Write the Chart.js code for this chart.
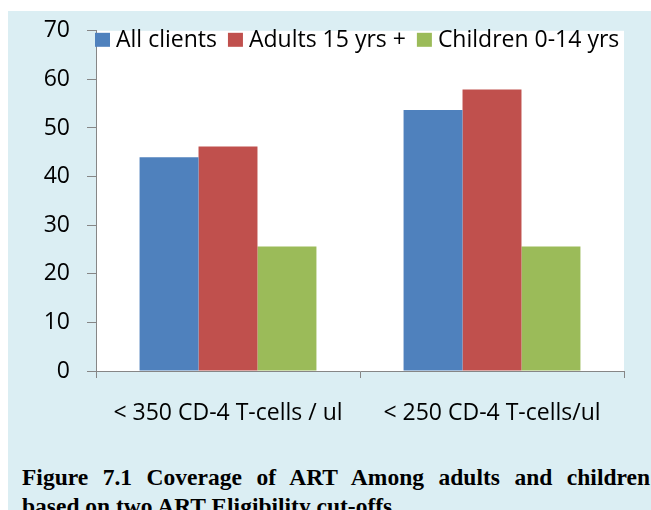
<!DOCTYPE html>
<html>
<head>
<meta charset="utf-8">
<script src="https://cdn.jsdelivr.net/npm/chart.js@4.4.1/dist/chart.umd.min.js"></script>
<style>
  html, body { margin: 0; padding: 0; background: #fff; width: 651px; height: 510px; overflow: hidden; }
  #panel { position: absolute; left: 8px; top: 11px; width: 643px; height: 499px; background: #DBEEF3; }
  #chart { position: absolute; left: 0; top: 0; }
  .cap {
    position: absolute; left: 22px; width: 628px; white-space: nowrap;
    font: bold 23.5px "Liberation Serif", "Times New Roman", serif;
    line-height: 26px; color: #000;
  }
  #cap1 { top: 464px; text-align: justify; text-align-last: justify; }
  #cap2 { top: 493px; text-align: left; }
</style>
</head>
<body>
<div id="panel"></div>
<canvas id="chart" width="651" height="450"></canvas>
<div class="cap" id="cap1">Figure 7.1 Coverage of ART Among adults and children</div>
<div class="cap" id="cap2">based on two ART Eligibility cut-offs</div>
<script>
// chart data
const categories = ['< 350 CD-4 T-cells / ul', '< 250 CD-4 T-cells/ul'];
const seriesNames = ['All clients', 'Adults 15 yrs +', 'Children 0-14 yrs'];
const allClients = [44.0, 53.7];
const adults = [46.2, 57.9];
const children = [25.6, 25.6];
const yTicks = [0, 10, 20, 30, 40, 50, 60, 70];

const colors = ['#4F81BD', '#C0504D', '#9BBB59'];
const axisGrey = '#868686';
const labelFont = { family: 'Open Sans', size: 23 };

// white plot area
const plotBg = {
    id: 'plotBg',
    beforeDraw(chart) {
        const { ctx, chartArea } = chart;
        ctx.save();
        ctx.fillStyle = '#fff';
        ctx.fillRect(chartArea.left, chartArea.top, chartArea.right - chartArea.left, chartArea.bottom - chartArea.top);
        ctx.restore();
    }
};

// legend sits inside the top of the plot area, like the Excel one
const insideLegend = {
    id: 'insideLegend',
    afterDraw(chart) {
        const { ctx, chartArea } = chart;
        ctx.save();
        ctx.font = labelFont.size + 'px "' + labelFont.family + '"';
        ctx.textBaseline = 'alphabetic';
        let x = chartArea.left - 1;
        const y = chartArea.top;
        chart.data.datasets.forEach(ds => {
            ctx.fillStyle = ds.backgroundColor;
            ctx.fillRect(x, y + 2, 15, 14);
            x += 21;
            ctx.fillStyle = '#000';
            ctx.fillText(ds.label, x, y + 16);
            x += ctx.measureText(ds.label).width + 11;
        });
        ctx.restore();
    }
};

new Chart(document.getElementById('chart'), {
    type: 'bar',
    data: {
        labels: categories,
        datasets: [
            { label: seriesNames[0], data: allClients, backgroundColor: colors[0] },
            { label: seriesNames[1], data: adults, backgroundColor: colors[1] },
            { label: seriesNames[2], data: children, backgroundColor: colors[2] }
        ]
    },
    options: {
        responsive: false,
        animation: false,
        devicePixelRatio: 1,
        layout: { padding: { left: 0, top: 30, right: 27, bottom: 0 } },
        datasets: { bar: { barPercentage: 1, categoryPercentage: 0.67, borderWidth: 0 } },
        plugins: {
            legend: { display: false },
            tooltip: { enabled: false }
        },
        scales: {
            x: {
                grid: { display: true, drawOnChartArea: false, drawTicks: true, tickLength: 7, color: axisGrey, offset: true },
                border: { color: axisGrey, width: 1 },
                ticks: { color: '#000', font: labelFont, padding: 22, maxRotation: 0 },
                afterFit(scale) { scale.height = 79; }
            },
            y: {
                min: 0,
                max: 70,
                afterBuildTicks(scale) { scale.ticks = yTicks.map(v => ({ value: v })); },
                grid: { display: true, drawOnChartArea: false, drawTicks: true, tickLength: 9, color: axisGrey },
                border: { color: axisGrey, width: 1 },
                ticks: { color: '#000', font: labelFont, padding: 17 },
                afterFit(scale) { scale.width = 96; }
            }
        }
    },
    plugins: [plotBg, insideLegend]
});
</script>
</body>
</html>
